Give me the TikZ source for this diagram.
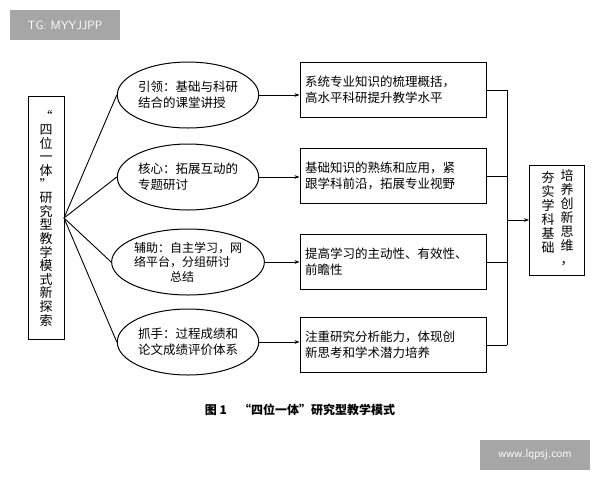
\documentclass[tikz,border=0pt]{standalone}
\usepackage{fontspec}
\newfontfamily\cjk{Noto Sans CJK SC}
\usetikzlibrary{shapes.geometric,arrows.meta}
\begin{document}
\begin{tikzpicture}[x=1pt,y=-1pt,font=\cjk\fontsize{12.5}{16}\selectfont,
 ell/.style={ellipse,draw,line width=1pt,minimum width=135pt,minimum height=66pt,inner sep=0pt,align=left},
 rbox/.style={draw,line width=1pt,minimum width=186pt,minimum height=55pt,inner sep=4pt,align=left,text width=176pt},
 ln/.style={line width=0.9pt},
 arr/.style={line width=0.9pt,-{Stealth[length=5pt]}},
 wm/.style={fill=black!35,text=white,font=\sffamily\fontsize{12}{14}\selectfont}]
\useasboundingbox (0,0) rectangle (600,480);
\fill[white] (0,0) rectangle (600,480);
\node[wm,minimum width=110pt,minimum height=30pt] (w1) at (65,25) {TG: MYYJJPP};
\node[wm,minimum width=110pt,minimum height=30pt] (w2) at (535,455) {www.lqpsj.com};
\node[draw,line width=1pt,minimum width=36pt,minimum height=243pt,inner sep=0pt] (L) at (46,218) {};
\node[align=center,font=\cjk\fontsize{13}{13.6}\selectfont] (Lt) at (46,218) {“\\四\\位\\一\\体\\”\\研\\究\\型\\教\\学\\模\\式\\新\\探\\索};
\coordinate (hub) at (64,218);
\node[ell] (e1) at (188,95) {引领：基础与科研\\结合的课堂讲授};
\node[ell] (e2) at (188,177) {核心：拓展互动的\\专题研讨};
\node[ell,font=\cjk\fontsize{12}{14.5}\selectfont] (e3) at (188,262) {辅助：自主学习，网\\络平台，分组研讨\\\hspace*{3em}总结};
\node[ell] (e4) at (188,342) {抓手：过程成绩和\\论文成绩评价体系};
\foreach \e in {e1,e2,e3,e4} \draw[ln] (hub) -- (\e.west);
\node[rbox] (r1) at (393,90) {系统专业知识的梳理概括，\\高水平科研提升教学水平};
\node[rbox] (r2) at (393,176) {基础知识的熟练和应用，紧\\跟学科前沿，拓展专业视野};
\node[rbox] (r3) at (393,262) {提高学习的主动性、有效性、\\前瞻性};
\node[rbox] (r4) at (393,345) {注重研究分析能力，体现创\\新思考和学术潜力培养};
\foreach \i in {1,2,3,4} \draw[arr] (e\i.east) -- (r\i.west |- e\i.east);
\coordinate (vt) at (507,90);
\coordinate (vb) at (507,345);
\coordinate (vm) at (507,220);
\draw[ln] (vt) -- (vb);
\foreach \i in {1,2,3,4} \draw[ln] (r\i.east) -- (vt |- r\i.east);
\node[draw,line width=1pt,minimum width=55pt,minimum height=110pt] (R) at (557,220) {};
\node[align=center,font=\cjk\fontsize{13}{14}\selectfont] (Ra) at (567,218) {培\\养\\创\\新\\思\\维\\，};
\node[align=center,font=\cjk\fontsize{13}{14}\selectfont] (Rb) at (548,212) {夯\\实\\学\\科\\基\\础};
\draw[arr] (vm) -- (R.west);
\node[font=\cjk\bfseries\fontsize{12}{14}\selectfont] (cap) at (300,410) {图 1\quad “四位一体”研究型教学模式};
\end{tikzpicture}
\end{document}
